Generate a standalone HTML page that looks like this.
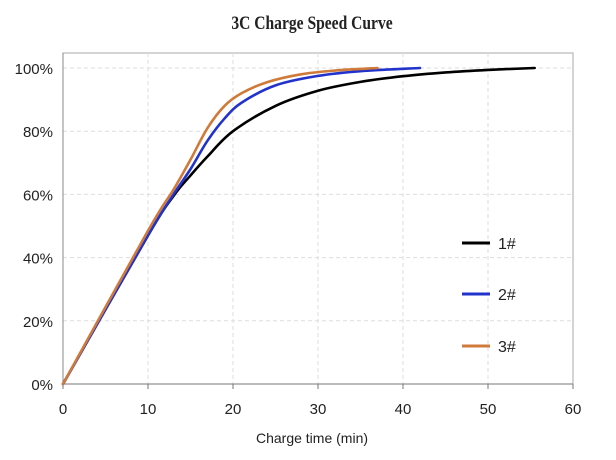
<!DOCTYPE html>
<html><head><meta charset="utf-8"><style>
body{margin:0;background:#fff;width:616px;height:460px;overflow:hidden}
svg{display:block}
.t{font-family:"Liberation Sans",sans-serif;font-size:15px;fill:#222}
</style></head><body>
<svg id="s" width="616" height="460" xmlns="http://www.w3.org/2000/svg">
<text x="312" y="29" text-anchor="middle" font-family="Liberation Serif,serif" font-size="19" font-weight="bold" fill="#222" transform="translate(312,0) scale(0.82,1) translate(-312,0)">3C Charge Speed Curve</text>
<rect x="63" y="53" width="510" height="331" fill="none" stroke="#aaa" stroke-width="1"/>
<g id="grid" stroke="#ddd" stroke-dasharray="4,3" stroke-width="1"></g>
<line x1="63" y1="384" x2="573" y2="384" stroke="#777"/>
<line x1="63" y1="53" x2="63" y2="384" stroke="#888"/>
<g id="lbl"></g>
<text x="312" y="443" text-anchor="middle" class="t" style="font-size:14px">Charge time (min)</text>
<g id="curves" fill="none" stroke-width="2.6" stroke-linejoin="round" stroke-linecap="round"></g>
<line x1="462" y1="243" x2="490" y2="243" stroke="#000" stroke-width="3"/>
<line x1="462" y1="294" x2="490" y2="294" stroke="#2233cc" stroke-width="3"/>
<line x1="462" y1="346" x2="490" y2="346" stroke="#d07a3a" stroke-width="3"/>
<text x="498" y="249" class="t" style="font-size:16px">1#</text>
<text x="498" y="300" class="t" style="font-size:16px">2#</text>
<text x="498" y="352" class="t" style="font-size:16px">3#</text>
</svg>
<script>
const X=m=>63+m*8.5, Y=p=>384-p*3.16, NS="http://www.w3.org/2000/svg";
const g=document.getElementById('grid'),l=document.getElementById('lbl');
function el(p,t,a,txt){const e=document.createElementNS(NS,t);for(const k in a)e.setAttribute(k,a[k]);if(txt)e.textContent=txt;p.appendChild(e);return e;}
for(let i=1;i<=5;i++)el(g,'line',{x1:X(i*10),y1:53,x2:X(i*10),y2:384});
for(let i=1;i<=5;i++)el(g,'line',{x1:63,y1:Y(i*20),x2:573,y2:Y(i*20)});
for(let i=0;i<=6;i++){el(l,'line',{x1:X(i*10),y1:384,x2:X(i*10),y2:389,stroke:'#777'});el(l,'text',{x:X(i*10),y:414,'text-anchor':'middle',class:'t'},String(i*10));}
for(let i=0;i<=5;i++)el(l,'text',{x:53,y:Y(i*20)+6,'text-anchor':'end',class:'t'},(i*20)+'%');
const data=[
['#000',[[0,0],[10,47],[13,59.5],[15,66],[17,72],[20,80],[25,88],[30,92.8],[35,95.6],[40,97.4],[45,98.6],[50,99.4],[55.5,100]]],
['#2233cc',[[0,0],[10,47],[13,60],[15,68],[17,77],[19,84],[21,89],[25,94.5],[30,97.5],[35,99],[42,100]]],
['#d07a3a',[[0,0],[10,48.5],[13,61.5],[15,71],[17,81],[19,88],[21,92],[24,95.5],[28,98],[32,99.2],[37,100]]]];
const c=document.getElementById('curves');
data.forEach(([col,pts])=>{
 const P=pts.map(([a,b])=>[X(a),Y(b)]);let d='M'+P[0];
 for(let i=0;i<P.length-1;i++){const p0=P[i-1]||P[i],p1=P[i],p2=P[i+1],p3=P[i+2]||p2;
  const c1=[p1[0]+(p2[0]-p0[0])/6,p1[1]+(p2[1]-p0[1])/6],c2=[p2[0]-(p3[0]-p1[0])/6,p2[1]-(p3[1]-p1[1])/6];
  d+=' C'+c1+' '+c2+' '+p2;}
 el(c,'path',{d:d,stroke:col});});
</script>
</body></html>
